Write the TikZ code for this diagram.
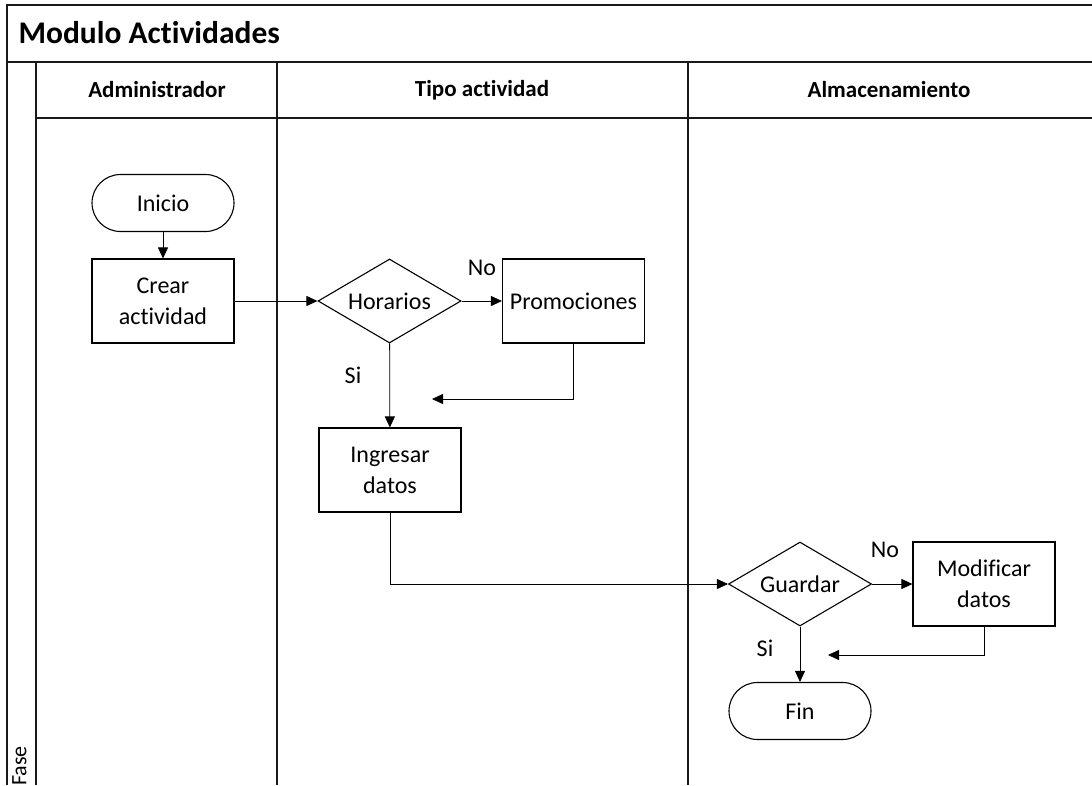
\documentclass[tikz,border=0pt]{standalone}
\usepackage{fontspec}
\setmainfont[RawFeature={-liga;-clig;-dlig}]{Carlito}
\usetikzlibrary{arrows.meta,shapes.geometric}

\tikzset{
  frame/.style={line width=1.8pt, draw=black!90},
  procbox/.style={draw, line width=1.1pt, minimum width=142pt, minimum height=84pt,
    align=center, font=\fontsize{24}{31}\selectfont, inner sep=0pt},
  terminal/.style={draw, line width=1.1pt, minimum width=142pt, minimum height=57pt,
    rounded corners=28.5pt, font=\fontsize{24}{28}\selectfont, inner sep=0pt},
  decision/.style={draw, diamond, line width=1.1pt, minimum width=143pt, minimum height=84pt,
    aspect=1.7, inner sep=0pt, font=\fontsize{24}{28}\selectfont},
  flow/.style={line width=0.8pt, -{Triangle[length=11pt,width=10pt]}},
  lanehead/.style={font=\bfseries\fontsize{23}{27}\selectfont},
  branch/.style={font=\fontsize{24}{28}\selectfont},
}

\begin{document}
\begin{tikzpicture}[x=1pt, y=-1pt]
\useasboundingbox (0,0) rectangle (1092,785);

% pool frame, title strip and lanes
\draw[frame] (1092,5) -- (7,5) -- (7,785);
\draw[frame] (7,62) -- (1092,62);
\draw[frame] (36,62) -- (36,785);
\draw[frame] (36,118) -- (1092,118);
\draw[frame] (277,62) -- (277,785);
\draw[frame] (688,62) -- (688,785);

\node[anchor=west, font=\bfseries\fontsize{31.5}{36}\selectfont] (title) at (15,33) {Modulo Actividades};
\node[rotate=90, font=\fontsize{22}{26}\selectfont, anchor=south] (fase) at (30,766) {Fase};

\node[lanehead] (h1) at (157,90) {Administrador};
\node[lanehead] (h2) at (482,90) {Tipo actividad};
\node[lanehead] (h3) at (889,90) {Almacenamiento};

% flow nodes
\node[terminal] (inicio) at (163,203) {Inicio};
\node[procbox] (crear) at (163,301) {Crear\\actividad};
\node[decision] (horarios) at (389.5,301) {Horarios};
\node[procbox] (promo) at (573.5,301) {Promociones};
\node[procbox] (ingresar) at (390,470) {Ingresar\\datos};
\node[decision] (guardar) at (800,584) {Guardar};
\node[procbox] (modif) at (984,584) {Modificar\\datos};
\node[terminal] (fin) at (800,711) {Fin};

\coordinate (ret1) at (432,399);
\coordinate (ret2) at (828,655);

% connectors
\draw[flow] (inicio) -- (crear);
\draw[flow] (crear) -- (horarios);
\draw[flow] (horarios) -- (promo);
\draw[flow] (promo.south) |- (ret1);
\draw[flow] (horarios) -- (ingresar);
\draw[flow] (ingresar.south) |- (guardar.west);
\draw[flow] (guardar) -- (modif);
\draw[flow] (modif.south) |- (ret2);
\draw[flow] (guardar) -- (fin);

% branch labels
\node[branch] (no1) at (482,268) {No};
\node[branch] (si1) at (353,375) {Si};
\node[branch] (no2) at (885,550) {No};
\node[branch] (si2) at (765,648) {Si};
\end{tikzpicture}
\end{document}
